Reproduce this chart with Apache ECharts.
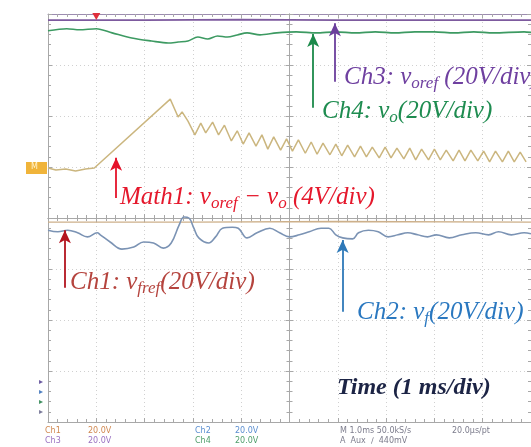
<!DOCTYPE html>
<html><head><meta charset="utf-8">
<script src="https://cdn.jsdelivr.net/npm/echarts@6.0.0/dist/echarts.min.js"></script>
<style>html,body{margin:0;padding:0;background:#fff}#c{width:531px;height:447px}</style>
</head><body><div id="c"></div>
<script>
// time in ms (1 ms/div), amplitude in screen divisions
const ch3Voref = [[0,3.88],[2,3.88],[4,3.89],[6,3.88],[8,3.88],[10,3.88]];
const ch4Vo = [[0,3.67],[0.388,3.71],[0.653,3.69],[1.0,3.71],[1.327,3.63],[1.735,3.53],[2.143,3.47],[2.49,3.43],[2.694,3.45],[2.898,3.47],[3.102,3.55],[3.306,3.51],[3.51,3.57],[3.714,3.55],[3.918,3.59],[4.122,3.63],[4.388,3.59],[4.735,3.63],[5.143,3.65],[5.551,3.63],[5.959,3.65],[6.367,3.63],[6.776,3.65],[7.184,3.63],[7.592,3.65],[8.0,3.65],[8.408,3.63],[8.816,3.65],[9.224,3.63],[9.857,3.65],[10,3.64]];
const math1 = [[0,0.98],[0.163,0.94],[0.367,0.96],[0.571,0.92],[0.776,0.96],[0.959,0.98],[2.531,2.33],[2.694,1.98],[2.776,2.08],[2.898,1.90],[3.041,1.63],[3.163,1.86],[3.265,1.67],[3.408,1.88],[3.531,1.63],[3.653,1.82],[3.796,1.51],[3.918,1.71],[4.041,1.45],[4.163,1.67],[4.306,1.41],[4.429,1.63],[4.551,1.35],[4.673,1.59],[4.816,1.33],[4.939,1.55],[5.061,1.31],[5.184,1.53],[5.327,1.27],[5.449,1.49],[5.571,1.25],[5.694,1.47],[5.837,1.24],[5.959,1.45],[6.082,1.22],[6.204,1.43],[6.347,1.20],[6.469,1.41],[6.592,1.20],[6.714,1.39],[6.857,1.18],[6.98,1.39],[7.102,1.18],[7.224,1.37],[7.367,1.16],[7.49,1.37],[7.612,1.14],[7.735,1.35],[7.878,1.14],[8.0,1.35],[8.122,1.14],[8.245,1.33],[8.388,1.12],[8.51,1.33],[8.633,1.12],[8.755,1.33],[8.898,1.12],[9.02,1.31],[9.143,1.10],[9.265,1.31],[9.408,1.10],[9.531,1.31],[9.653,1.10],[9.776,1.29],[9.898,1.10]];
const ch1Vfref = [[0,-0.08],[3,-0.08],[6,-0.07],[10,-0.08]];
const ch2Vf = [[0,-0.24],[0.204,-0.27],[0.408,-0.24],[0.612,-0.29],[0.816,-0.37],[1.02,-0.29],[1.082,-0.33],[1.286,-0.47],[1.531,-0.61],[1.776,-0.57],[1.98,-0.47],[2.184,-0.49],[2.388,-0.59],[2.551,-0.49],[2.714,-0.14],[2.816,0.02],[2.918,0.0],[3.02,-0.20],[3.122,-0.39],[3.327,-0.49],[3.469,-0.37],[3.612,-0.20],[3.816,-0.18],[3.939,-0.20],[4.122,-0.39],[4.327,-0.29],[4.592,-0.20],[4.796,-0.29],[5.0,-0.37],[5.204,-0.33],[5.408,-0.27],[5.653,-0.20],[5.816,-0.20],[5.959,-0.33],[6.102,-0.39],[6.306,-0.41],[6.429,-0.29],[6.633,-0.24],[6.837,-0.27],[7.041,-0.37],[7.245,-0.33],[7.449,-0.29],[7.653,-0.33],[7.857,-0.37],[8.041,-0.33],[8.306,-0.39],[8.571,-0.33],[8.857,-0.29],[9.122,-0.33],[9.327,-0.27],[9.592,-0.33],[9.857,-0.29],[10,-0.31]];
// annotation arrows: [time, tail, tip]
const arrowCh3 = [5.94, 2.67, 3.82];
const arrowCh4 = [5.49, 2.16, 3.61];
const arrowMath = [1.41, 0.39, 1.18];
const arrowCh1 = [0.35, -1.37, -0.24];
const arrowCh2 = [6.10, -1.84, -0.43];
const triggerTime = 1.0;

const chart = echarts.init(document.getElementById('c'), null, {renderer:'canvas'});
const G = {left:48, top:14, width:490, height:408};
const tickCol = '#a8a8a8';
function decoX(grid, pos, onZero, lineCol){
  return {gridIndex:grid, type:'value', min:-5, max:5, interval:1, position:pos,
    axisLine:{show:true, onZero:onZero, lineStyle:{color:lineCol||tickCol, width:1}},
    axisTick:{show:true, inside:true, length:4, lineStyle:{color:tickCol}},
    minorTick:{show:true, splitNumber:5, length:3, lineStyle:{color:tickCol}},
    axisLabel:{show:false}, splitLine:{show:false}};
}
function decoY(grid, pos, onZero){
  return {gridIndex:grid, type:'value', min:-4, max:4, interval:1, position:pos,
    axisLine:{show:true, onZero:onZero, lineStyle:{color:tickCol, width:1}},
    axisTick:{show:true, inside:true, length:4, lineStyle:{color:tickCol}},
    minorTick:{show:true, splitNumber:5, length:3, lineStyle:{color:tickCol}},
    axisLabel:{show:false}, splitLine:{show:false}};
}
function arrow(a, color){
  return {silent:true, symbol:['none','arrow'], symbolSize:12, animation:false,
    label:{show:false}, lineStyle:{color:color, width:1.8, type:'solid'}, itemStyle:{color:color},
    data:[[{coord:[a[0],a[1]], symbol:'none'},{coord:[a[0],a[2]], symbol:'arrow', symbolSize:[9,13]}]]};
}
function rich(color, weight, fs){
  return {
    m:{fill:color, fontSize:fs, fontStyle:'italic', fontWeight:weight||'normal', fontFamily:'Liberation Serif', lineHeight:30},
    s:{fill:color, fontSize:17, fontStyle:'italic', fontFamily:'Liberation Serif', lineHeight:17, verticalAlign:'bottom'}
  };
}
function label(x, y, text, color, weight, fs){
  return {type:'text', x:x, y:y, silent:true, z:100,
    style:{text:text, rich:rich(color, weight, fs||25), align:'left', verticalAlign:'top'}};
}
function small(x, y, text, color){
  return {type:'text', x:x, y:y, silent:true, z:100,
    style:{text:text, fill:color, font:'8px "DejaVu Sans"', align:'left', verticalAlign:'top'}};
}
const lineBase = {type:'line', xAxisIndex:0, yAxisIndex:0, showSymbol:false, symbol:'none', animation:false, clip:true};

chart.setOption({
  animation:false,
  backgroundColor:'#ffffff',
  grid:[Object.assign({},G), Object.assign({},G), Object.assign({},G)],
  xAxis:[
    {gridIndex:0, type:'value', min:0, max:10, interval:1, axisLine:{show:false}, axisTick:{show:false}, axisLabel:{show:false},
     splitLine:{show:true, lineStyle:{type:[1,3], color:'#d0d0d0', width:1}}},
    decoX(1,'bottom',true), decoX(1,'top',false,'#9c8cb0'),
    decoX(2,'bottom',false), decoX(2,'top',true)
  ],
  yAxis:[
    {gridIndex:0, type:'value', min:-4, max:4, interval:1, axisLine:{show:false}, axisTick:{show:false}, axisLabel:{show:false},
     splitLine:{show:true, lineStyle:{type:[1,3], color:'#d0d0d0', width:1}}},
    decoY(1,'left',true), decoY(1,'right',false),
    decoY(2,'left',false), decoY(2,'right',true)
  ],
  series:[
    Object.assign({}, lineBase, {name:'Ch1', data:ch1Vfref, lineStyle:{color:'#cdb08a', width:1.4}, markLine:arrow(arrowCh1,'#b3141f')}),
    Object.assign({}, lineBase, {name:'Ch2', data:ch2Vf, smooth:0.4, lineStyle:{color:'#7b93b4', width:1.6}, markLine:arrow(arrowCh2,'#2e79b8')}),
    Object.assign({}, lineBase, {name:'Math1', data:math1, lineStyle:{color:'#cbb67f', width:1.5}, markLine:arrow(arrowMath,'#e5122a')}),
    Object.assign({}, lineBase, {name:'Ch4', data:ch4Vo, smooth:0.3, lineStyle:{color:'#3d9a62', width:1.6}, markLine:arrow(arrowCh4,'#1b8a4a')}),
    Object.assign({}, lineBase, {name:'Ch3', data:ch3Voref, lineStyle:{color:'#7d5a9e', width:1.6}, markLine:arrow(arrowCh3,'#6b3f9c'),
      markPoint:{silent:true, animation:false, symbol:'triangle', symbolRotate:180, symbolSize:[8,7], itemStyle:{color:'#e0303c'}, label:{show:false},
        data:[{coord:[triggerTime,3.95]}]}})
  ],
  graphic:[
    label(344, 62, '{m|Ch3: v}{s|oref}{m| (20V/div)}', '#6f40a0'),
    label(322, 96, '{m|Ch4: v}{s|o}{m|(20V/div)}', '#1e8c50'),
    label(120, 182, '{m|Math1: v}{s|oref}{m| − v}{s|o}{m| (4V/div)}', '#e5182c'),
    label(70, 267, '{m|Ch1: v}{s|fref}{m|(20V/div)}', '#b5443e'),
    label(357, 297, '{m|Ch2: v}{s|f}{m|(20V/div)}', '#2a78c0'),
    label(337, 373, '{m|Time (1 ms/div)}', '#1c2445', 'bold', 24),
    {type:'rect', shape:{x:26, y:162, width:21, height:12}, style:{fill:'#f0b43a'}, silent:true},
    small(31, 163, 'M', '#fff3d0'),
    small(39, 378, '▸', '#6a5aa0'), small(39, 388, '▸', '#4f7fc0'),
    small(39, 398, '▸', '#3f8f60'), small(39, 408, '▸', '#7a7a9a'),
    small(45, 427, 'Ch1', '#d08850'), small(88, 427, '20.0V', '#d08850'),
    small(45, 437, 'Ch3', '#9a72c2'), small(88, 437, '20.0V', '#9a72c2'),
    small(195, 427, 'Ch2', '#5a8ed0'), small(235, 427, '20.0V', '#5a8ed0'),
    small(195, 437, 'Ch4', '#4e9e6a'), small(235, 437, '20.0V', '#4e9e6a'),
    small(340, 427, 'M 1.0ms 50.0kS/s', '#7c7c8c'), small(340, 437, 'A  Aux  ∕  440mV', '#7c7c8c'),
    small(452, 427, '20.0μs/pt', '#7c7c8c')
  ]
});
</script></body></html>
